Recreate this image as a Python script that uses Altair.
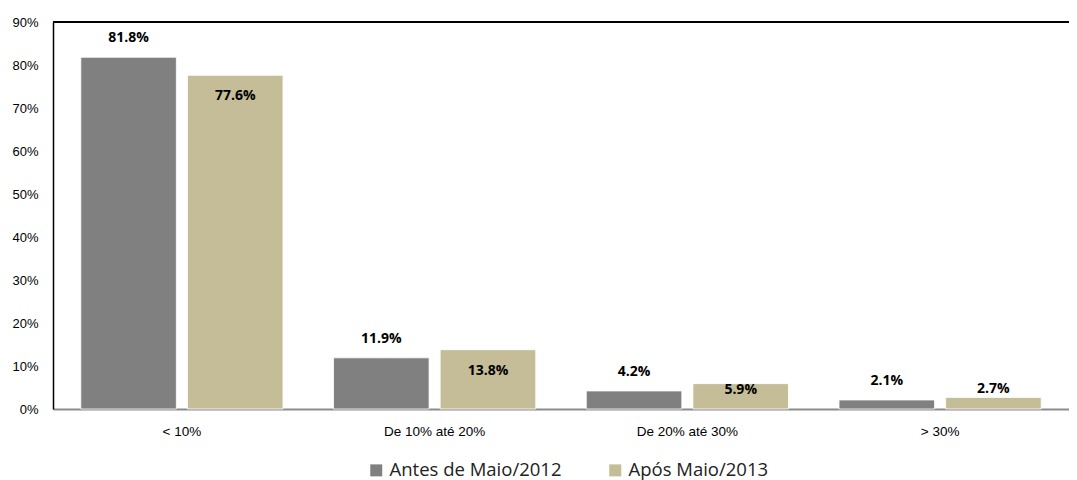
import altair as alt
import pandas as pd

categories = ["< 10%", "De 10% até 20%", "De 20% até 30%", "> 30%"]
series = ["Antes de Maio/2012", "Após Maio/2013"]
antes = [81.8, 11.9, 4.2, 2.1]
apos = [77.6, 13.8, 5.9, 2.7]
colors = ["#808080", "#C4BD97"]

rows = []
for c, a, b in zip(categories, antes, apos):
    rows.append({"cat": c, "serie": series[0], "v": a, "lbl": f"{a:.1f}%"})
    rows.append({"cat": c, "serie": series[1], "v": b, "lbl": f"{b:.1f}%"})
df = pd.DataFrame(rows)

x = alt.X("cat:N", sort=categories, title=None,
          scale=alt.Scale(paddingInner=0.2, paddingOuter=0.11),
          axis=alt.Axis(labelAngle=0, labelFont="Liberation Sans", labelFontSize=13.5,
                        labelColor="#000000", ticks=False, domainColor="#8c8c8c",
                        domainWidth=2, labelPadding=15))
xo = alt.XOffset("serie:N", sort=series, scale=alt.Scale(paddingInner=0.104, paddingOuter=0))
y = alt.Y("v:Q", title=None,
          scale=alt.Scale(domain=[0, 90], nice=False),
          axis=alt.Axis(values=list(range(0, 100, 10)), labelExpr="datum.value + '%'",
                        labelFont="Liberation Sans", labelFontSize=13, labelColor="#000000",
                        ticks=False, grid=False, domainColor="#000000", domainWidth=1.5,
                        labelPadding=15))

base = alt.Chart(df)

bars = base.mark_bar(stroke="#ffffff", strokeWidth=0.8).encode(
    x=x, xOffset=xo, y=y,
    color=alt.Color("serie:N", sort=series,
                    scale=alt.Scale(domain=series, range=colors),
                    legend=alt.Legend(title=None, orient="none", direction="horizontal",
                                      legendX=314, legendY=439, symbolType="square",
                                      symbolSize=144, symbolStrokeWidth=0,
                                      labelFont="Open Sans", labelFontSize=18.5,
                                      labelLimit=400,
                                      labelColor="#222222", columnPadding=44,
                                      symbolOffset=0, labelOffset=4)),
)

txt_kw = dict(font="Open Sans", fontSize=14, fontWeight="bold", color="#000000",
              baseline="middle")
t_antes = base.transform_filter(alt.datum.serie == series[0]).mark_text(dy=-19, **txt_kw).encode(
    x=x, xOffset=xo, y=y, text="lbl:N")
t_apos_big = base.transform_filter((alt.datum.serie == series[1]) & (alt.datum.v >= 10)).mark_text(
    dy=21, **txt_kw).encode(x=x, xOffset=xo, y=y, text="lbl:N")
t_apos_mid = base.transform_filter((alt.datum.serie == series[1]) & (alt.datum.v >= 5) & (alt.datum.v < 10)).mark_text(
    dy=6, **txt_kw).encode(x=x, xOffset=xo, y=y, text="lbl:N")
t_apos_small = base.transform_filter((alt.datum.serie == series[1]) & (alt.datum.v < 5)).mark_text(
    dy=-8, **txt_kw).encode(x=x, xOffset=xo, y=y, text="lbl:N")

top_line = alt.Chart(pd.DataFrame({"t": [90]})).mark_rule(color="#000000", strokeWidth=2).encode(
    y=alt.Y("t:Q", scale=alt.Scale(domain=[0, 90], nice=False)))

chart = alt.layer(bars, t_antes, t_apos_big, t_apos_mid, t_apos_small, top_line).properties(
    width=1016, height=387,
    autosize=alt.AutoSizeParams(type="none"),
    padding={"left": 45, "top": 14, "right": 0, "bottom": 71},
).configure_view(stroke=None).configure(background="#ffffff")

chart.save("out.html", embed_options={"renderer": "svg", "actions": False})
